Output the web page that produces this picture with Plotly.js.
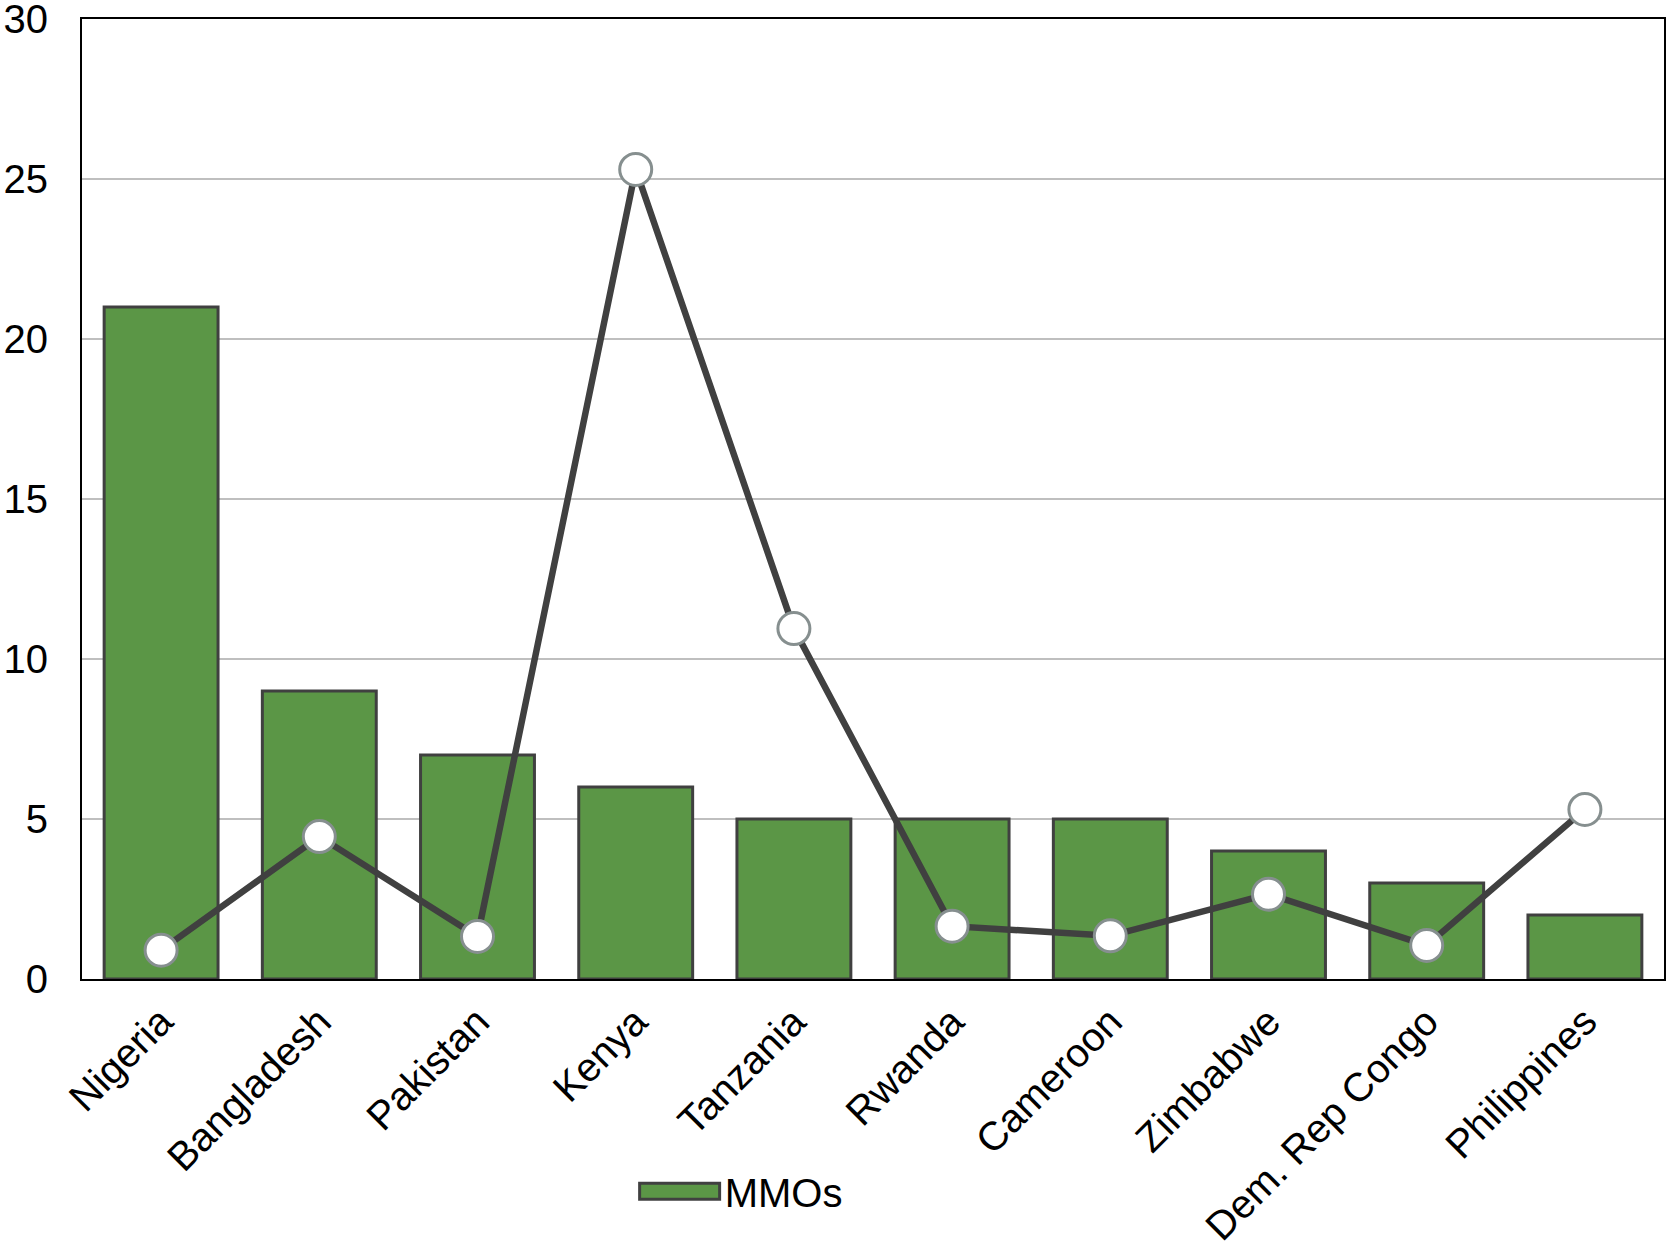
<!DOCTYPE html>
<html>
<head>
<meta charset="utf-8">
<script src="https://cdn.plot.ly/plotly-3.0.1.min.js"></script>
<style>html,body{margin:0;padding:0;background:#fff;}#chart{width:1667px;height:1246px;}</style>
</head>
<body>
<div id="chart"></div>
<script>
const countries = ["Nigeria","Bangladesh","Pakistan","Kenya","Tanzania","Rwanda","Cameroon","Zimbabwe","Dem. Rep Congo","Philippines"];
const mmos = [21, 9, 7, 6, 5, 5, 5, 4, 3, 2];
const lineValues = [0.9, 4.45, 1.33, 25.3, 10.95, 1.65, 1.35, 2.65, 1.05, 5.3];

const font = {family: "Liberation Sans, Arial, sans-serif", size: 40, color: "#000"};

const traces = [
  {
    type: "bar", x: countries, y: mmos, name: "MMOs",
    marker: {color: "#5b9646", line: {color: "#404040", width: 3}},
    width: 0.72, showlegend: true
  },
  {
    type: "scatter", mode: "lines+markers", x: countries, y: lineValues,
    name: "", showlegend: false,
    line: {color: "#404040", width: 6.5},
    marker: {size: 32, color: "#ffffff", line: {color: "#868f8f", width: 3}}
  }
];

const layout = {
  width: 1667, height: 1246,
  margin: {l: 82, r: 3, t: 19, b: 267, autoexpand: false},
  paper_bgcolor: "#fff", plot_bgcolor: "#fff",
  font: font,
  xaxis: {
    type: "category", range: [-0.5, 9.5], tickangle: -45, automargin: false,
    showline: true, linecolor: "#000", linewidth: 2, mirror: true,
    ticks: "outside", ticklen: 1, tickcolor: "rgba(0,0,0,0)",
    showgrid: false, tickfont: font
  },
  yaxis: {
    range: [0, 30], dtick: 5, tick0: 0, automargin: false,
    showline: true, linecolor: "#000", linewidth: 2, mirror: true,
    showgrid: true, gridcolor: "#bfbfbf", gridwidth: 1.5,
    zeroline: false, ticks: "", ticklabelstandoff: 24, ticklabeloverflow: "allow",
    tickfont: font
  },
  legend: {
    orientation: "h", x: 0.343, y: -0.221, xanchor: "left", yanchor: "middle",
    font: font, bgcolor: "rgba(0,0,0,0)", itemwidth: 90
  },
  showlegend: true
};

Plotly.newPlot("chart", traces, layout, {displayModeBar: false, staticPlot: true}).then(function (gd) {
  // widen the bar legend swatch into a long rectangle like the reference
  gd.querySelectorAll(".legend .legendpoints path").forEach(function (p) {
    p.setAttribute("d", "M45,8H-35V-8H45Z");
  });
});
</script>
</body>
</html>
